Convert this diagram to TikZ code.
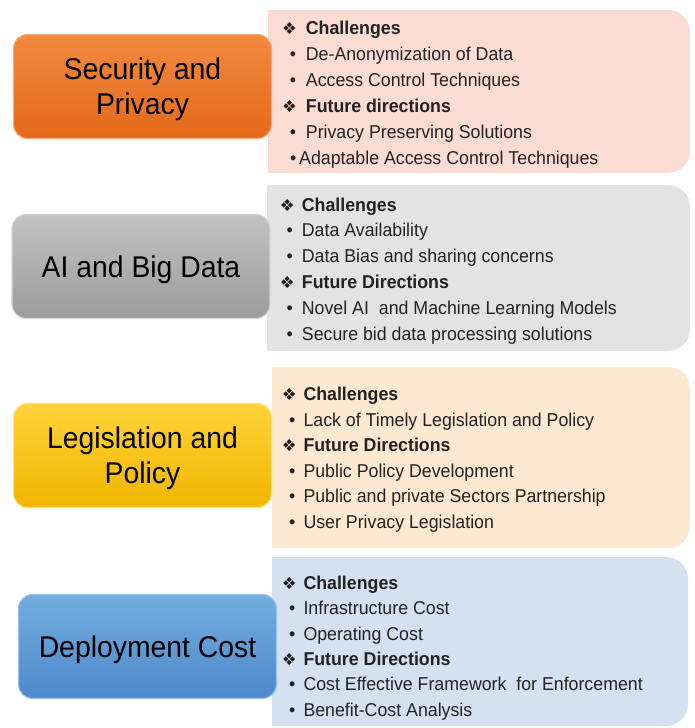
\documentclass[tikz,border=0pt]{standalone}
\usepackage{fontspec}
\setmainfont{Liberation Sans}[FakeStretch=0.955]
\newfontfamily\boxfont{Liberation Sans}[FakeStretch=0.945]
\newfontfamily\symfont{DejaVu Sans}
\definecolor{txt}{HTML}{222222}
\definecolor{pinkbg}{HTML}{FADCD3}
\definecolor{graybg}{HTML}{E3E3E3}
\definecolor{peachbg}{HTML}{FDE8D2}
\definecolor{bluebg}{HTML}{D5E0F0}
\definecolor{orT}{HTML}{F28A40}
\definecolor{orB}{HTML}{E4681A}
\definecolor{orD}{HTML}{F6AE78}
\definecolor{grT}{HTML}{C2C2C2}
\definecolor{grB}{HTML}{9B9B9B}
\definecolor{grD}{HTML}{D6D6D6}
\definecolor{yeT}{HTML}{FFD33A}
\definecolor{yeB}{HTML}{EFB600}
\definecolor{yeD}{HTML}{FFE07E}
\definecolor{blT}{HTML}{74ADDF}
\definecolor{blB}{HTML}{4D89CA}
\definecolor{blD}{HTML}{9CC3E9}
\newcommand\panelbg[5]{%
  \fill[#5, rounded corners=22pt] (#1,#2) rectangle (#3,#4);
  \fill[#5] (#1,#2) rectangle ({#1+40},#4);}
\begin{document}
\begin{tikzpicture}[x=1pt,y=-1pt,
  cat/.style={rounded corners=14pt, minimum width=258pt, minimum height=104pt,
    align=center, font=\boxfont\fontsize{30}{35}\selectfont, text=black,
    line width=1.2pt, inner sep=0pt, text depth=0pt},
  hd/.style={anchor=base west, inner sep=0pt, font=\fontsize{18.6}{20}\selectfont\bfseries, text=txt},
  it/.style={anchor=base west, inner sep=0pt, font=\fontsize{18.6}{20}\selectfont, text=txt},
  mk/.style={anchor=base west, inner sep=0pt, font=\symfont\fontsize{16.5}{18}\selectfont, text=txt},
]
\useasboundingbox (0,0) rectangle (694,728);
% panels
\panelbg{268}{10}{690}{173}{pinkbg}
\panelbg{267}{185}{690}{351}{graybg}
\panelbg{272}{367}{690}{548}{peachbg}
\panelbg{272}{557}{688}{726}{bluebg}
% category boxes
\node[cat, top color=orT, bottom color=orB, draw=orD] (sec) at (142.5,86.5) {Security and\\Privacy};
\node[cat, top color=grT, bottom color=grB, draw=grD] (ai) at (141,266.5) {AI and Big Data};
\node[cat, top color=yeT, bottom color=yeB, draw=yeD] (leg) at (142.5,455.5) {Legislation and\\Policy};
\node[cat, top color=blT, bottom color=blB, draw=blD] (dep) at (147.5,646.5) {Deployment Cost};
% panel 1
\node[mk] (a1m) at (282,34) {❖};   \node[hd] (a1) at (305.7,34) {Challenges};
\node[it] (a2b) at (289.7,60) {•}; \node[it] (a2) at (305.7,60) {De-Anonymization of Data};
\node[it] (a3b) at (289.7,86) {•}; \node[it] (a3) at (305.7,86) {Access Control Techniques};
\node[mk] (a4m) at (282,112.5) {❖}; \node[hd] (a4) at (305.7,112.5) {Future directions};
\node[it] (a5b) at (289.7,138) {•}; \node[it] (a5) at (305.7,138) {Privacy Preserving Solutions};
\node[it] (a6b) at (290,164) {•}; \node[it] (a6) at (299,164) {Adaptable Access Control Techniques};
% panel 2
\node[mk] (b1m) at (279.7,211.7) {❖}; \node[hd] (b1) at (301.7,211.7) {Challenges};
\node[it] (b2b) at (286.3,236.7) {•}; \node[it] (b2) at (301.7,236.7) {Data Availability};
\node[it] (b3b) at (286.3,262) {•}; \node[it] (b3) at (301.7,262) {Data Bias and sharing concerns};
\node[mk] (b4m) at (279.7,288.3) {❖}; \node[hd] (b4) at (301.7,288.3) {Future Directions};
\node[it] (b5b) at (286.3,314.3) {•}; \node[it] (b5) at (301.7,314.3) {Novel AI\ \ and Machine Learning Models};
\node[it] (b6b) at (286.3,340) {•}; \node[it] (b6) at (301.7,340) {Secure bid data processing solutions};
% panel 3
\node[mk] (c1m) at (281.7,400) {❖}; \node[hd] (c1) at (303.3,400) {Challenges};
\node[it] (c2b) at (289,426) {•}; \node[it] (c2) at (303.3,426) {Lack of Timely Legislation and Policy};
\node[mk] (c3m) at (281.7,451.7) {❖}; \node[hd] (c3) at (303.3,451.7) {Future Directions};
\node[it] (c4b) at (289,477.3) {•}; \node[it] (c4) at (303.3,477.3) {Public Policy Development};
\node[it] (c5b) at (289,502.7) {•}; \node[it] (c5) at (303.3,502.7) {Public and private Sectors Partnership};
\node[it] (c6b) at (289,528.3) {•}; \node[it] (c6) at (303.3,528.3) {User Privacy Legislation};
% panel 4
\node[mk] (d1m) at (281.7,589) {❖}; \node[hd] (d1) at (303.3,589) {Challenges};
\node[it] (d2b) at (289,614) {•}; \node[it] (d2) at (303.3,614) {Infrastructure Cost};
\node[it] (d3b) at (289,640) {•}; \node[it] (d3) at (303.3,640) {Operating Cost};
\node[mk] (d4m) at (281.7,665) {❖}; \node[hd] (d4) at (303.3,665) {Future Directions};
\node[it] (d5b) at (289,690.7) {•}; \node[it] (d5) at (303.3,690.7) {Cost Effective Framework\ \ for Enforcement};
\node[it] (d6b) at (289,716.7) {•}; \node[it] (d6) at (303.3,716.7) {Benefit-Cost Analysis};
\end{tikzpicture}
\end{document}
